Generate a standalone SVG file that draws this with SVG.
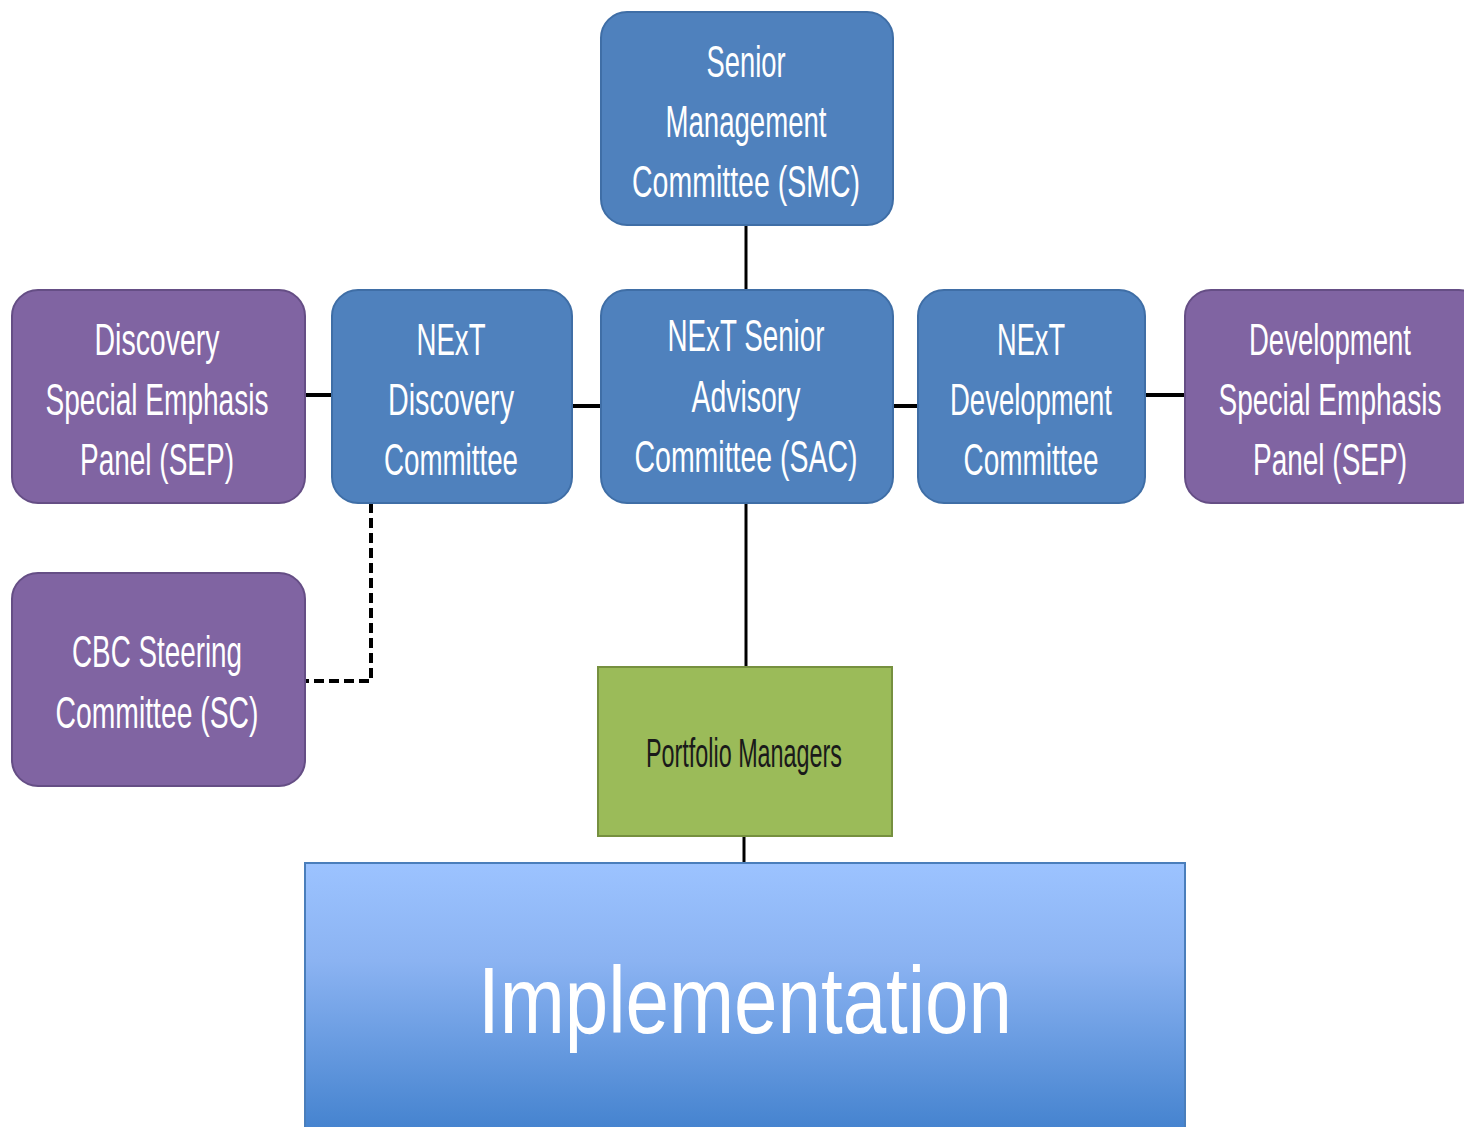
<svg xmlns="http://www.w3.org/2000/svg" width="1464" height="1127" viewBox="0 0 1464 1127">
<defs>
<linearGradient id="impl" x1="0" y1="0" x2="0" y2="1">
<stop offset="0" stop-color="#9cc3ff"/>
<stop offset="0.35" stop-color="#8bb3f2"/>
<stop offset="1" stop-color="#3f7fcc"/>
</linearGradient>
<style>
.blue{fill:#4f81bd;stroke:#3f6ea6;stroke-width:2}
.purple{fill:#8064a2;stroke:#654e85;stroke-width:2}
.green{fill:#9bbb59;stroke:#76903f;stroke-width:2}
.t{font-family:"Liberation Sans",Arial,sans-serif;font-size:45px;fill:#ffffff;text-anchor:middle}
.pm{font-family:"Liberation Sans",Arial,sans-serif;font-size:40px;fill:#1a1a1a;text-anchor:middle}
.im{font-family:"Liberation Sans",Arial,sans-serif;font-size:94px;fill:#ffffff;text-anchor:middle}
.c{stroke:#000;stroke-width:3;fill:none}
.ct{stroke:#000;stroke-width:4;fill:none}
.d{stroke:#000;stroke-width:4;fill:none;stroke-dasharray:10 5}
</style>
</defs>
<rect width="1464" height="1127" fill="#ffffff"/>
<g id="connectors">
<line class="c" x1="746" y1="225" x2="746" y2="290"/>
<line class="ct" x1="305" y1="395" x2="332" y2="395"/>
<line class="ct" x1="572" y1="406" x2="601" y2="406"/>
<line class="ct" x1="893" y1="406" x2="918" y2="406"/>
<line class="ct" x1="1145" y1="395" x2="1185" y2="395"/>
<line class="c" x1="746" y1="503" x2="746" y2="667"/>
<line class="c" x1="744" y1="836" x2="744" y2="863"/>
<polyline class="d" points="371,503 371,681 305,681"/>
</g>
<g id="smc">
<rect class="blue" x="601" y="12" width="292" height="213" rx="26"/>
<text class="t" x="746" y="77" textLength="79" lengthAdjust="spacingAndGlyphs">Senior</text>
<text class="t" x="746" y="137" textLength="161" lengthAdjust="spacingAndGlyphs">Management</text>
<text class="t" x="746" y="197" textLength="228" lengthAdjust="spacingAndGlyphs">Committee (SMC)</text>
</g>
<g id="discovery-sep">
<rect class="purple" x="12" y="290" width="293" height="213" rx="26"/>
<text class="t" x="157" y="355" textLength="125" lengthAdjust="spacingAndGlyphs">Discovery</text>
<text class="t" x="157" y="415" textLength="223" lengthAdjust="spacingAndGlyphs">Special Emphasis</text>
<text class="t" x="157" y="475" textLength="154" lengthAdjust="spacingAndGlyphs">Panel (SEP)</text>
</g>
<g id="next-discovery">
<rect class="blue" x="332" y="290" width="240" height="213" rx="26"/>
<text class="t" x="451" y="355" textLength="69" lengthAdjust="spacingAndGlyphs">NExT</text>
<text class="t" x="451" y="415" textLength="126" lengthAdjust="spacingAndGlyphs">Discovery</text>
<text class="t" x="451" y="475" textLength="134" lengthAdjust="spacingAndGlyphs">Committee</text>
</g>
<g id="next-sac">
<rect class="blue" x="601" y="290" width="292" height="213" rx="26"/>
<text class="t" x="746" y="351" textLength="157" lengthAdjust="spacingAndGlyphs">NExT Senior</text>
<text class="t" x="746" y="412" textLength="109" lengthAdjust="spacingAndGlyphs">Advisory</text>
<text class="t" x="746" y="472" textLength="223" lengthAdjust="spacingAndGlyphs">Committee (SAC)</text>
</g>
<g id="next-development">
<rect class="blue" x="918" y="290" width="227" height="213" rx="26"/>
<text class="t" x="1031" y="355" textLength="68" lengthAdjust="spacingAndGlyphs">NExT</text>
<text class="t" x="1031" y="415" textLength="162" lengthAdjust="spacingAndGlyphs">Development</text>
<text class="t" x="1031" y="475" textLength="135" lengthAdjust="spacingAndGlyphs">Committee</text>
</g>
<g id="development-sep">
<rect class="purple" x="1185" y="290" width="300" height="213" rx="26"/>
<text class="t" x="1330" y="355" textLength="162" lengthAdjust="spacingAndGlyphs">Development</text>
<text class="t" x="1330" y="415" textLength="223" lengthAdjust="spacingAndGlyphs">Special Emphasis</text>
<text class="t" x="1330" y="475" textLength="154" lengthAdjust="spacingAndGlyphs">Panel (SEP)</text>
</g>
<g id="cbc-sc">
<rect class="purple" x="12" y="573" width="293" height="213" rx="26"/>
<text class="t" x="157" y="667" textLength="170" lengthAdjust="spacingAndGlyphs">CBC Steering</text>
<text class="t" x="157" y="728" textLength="203" lengthAdjust="spacingAndGlyphs">Committee (SC)</text>
</g>
<g id="portfolio-managers">
<rect class="green" x="598" y="667" width="294" height="169"/>
<text class="pm" x="744" y="767" textLength="196" lengthAdjust="spacingAndGlyphs">Portfolio Managers</text>
</g>
<g id="implementation">
<rect x="305" y="863" width="880" height="280" fill="url(#impl)" stroke="#4a7ebb" stroke-width="2"/>
<text class="im" x="745" y="1033" textLength="534" lengthAdjust="spacingAndGlyphs">Implementation</text>
</g>
</svg>
